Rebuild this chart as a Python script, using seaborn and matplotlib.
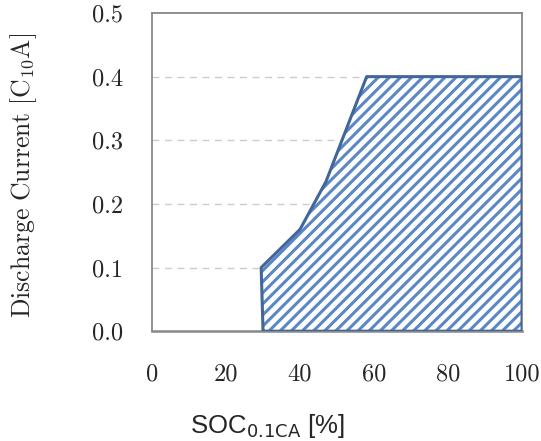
import matplotlib
matplotlib.use("Agg")
import matplotlib.pyplot as plt
import seaborn as sns
import pandas as pd
from matplotlib.ticker import FixedLocator

# Boundary of the permitted region (SOC %, discharge current C10A)
soc = [30.0, 29.5, 40.0, 47.0, 58.0, 100.0, 100.0, 30.0]
current = [0.0, 0.10, 0.16, 0.235, 0.40, 0.40, 0.0, 0.0]

x_ticks = [0, 20, 40, 60, 80, 100]
y_ticks = [0.0, 0.1, 0.2, 0.3, 0.4, 0.5]

sns.set_style("white")
plt.rcParams["font.family"] = ["cmr10", "DejaVu Serif"]
plt.rcParams["mathtext.fontset"] = "cm"
plt.rcParams["axes.formatter.use_mathtext"] = True
plt.rcParams["hatch.linewidth"] = 2.2

df = pd.DataFrame({"soc": soc, "current": current})

fig = plt.figure(figsize=(5.41, 4.41), dpi=100)
ax = fig.add_axes([0.281, 0.249, 0.684, 0.7215])

# grid
for yv in y_ticks[1:-1]:
    ax.axhline(yv, color="#cccccc", lw=1.0, ls=(0, (5, 4)), zorder=0)

# hatched region
ax.fill(df["soc"], df["current"], facecolor="white", edgecolor="#5b88c4",
        hatch="///", lw=0, zorder=2)
sns.lineplot(data=df, x="soc", y="current", sort=False, estimator=None,
             color="#41679a", lw=2.2, ax=ax, zorder=3)

ax.set_xlim(0, 100)
ax.set_ylim(0, 0.5)
ax.xaxis.set_major_locator(FixedLocator(x_ticks))
ax.xaxis.set_minor_locator(FixedLocator([10, 30, 50, 70, 90]))
ax.yaxis.set_major_locator(FixedLocator(y_ticks))
ax.set_xticklabels([str(v) for v in x_ticks])
ax.set_yticklabels([f"{v:.1f}" for v in y_ticks])

ax.tick_params(axis="x", which="both", direction="out", length=8, width=1.2,
               color="#999999", pad=15, labelsize=17.5)
ax.tick_params(axis="y", which="major", direction="out", length=9, width=1.0,
               color="#cccccc", pad=12, labelsize=17.5)

for side in ["left", "bottom", "top", "right"]:
    ax.spines[side].set_color("#888888")
    ax.spines[side].set_linewidth(1.3)
ax.spines["bottom"].set_linewidth(1.8)
ax.spines["bottom"].set_zorder(1)

ax.set_xlabel("")
ax.set_ylabel("")

fig.text(0.043, 0.603, r"$\mathrm{Discharge\ Current\ [C_{10}A]}$", rotation=90,
         ha="center", va="center", fontsize=18.5)
fig.text(0.495, 0.035, r"SOC$_{\mathsf{0.1CA}}$ [%]", ha="center", va="center",
         fontsize=18.5, family=["Liberation Sans"], math_fontfamily="dejavusans")

fig.savefig("out.png", dpi=100)
